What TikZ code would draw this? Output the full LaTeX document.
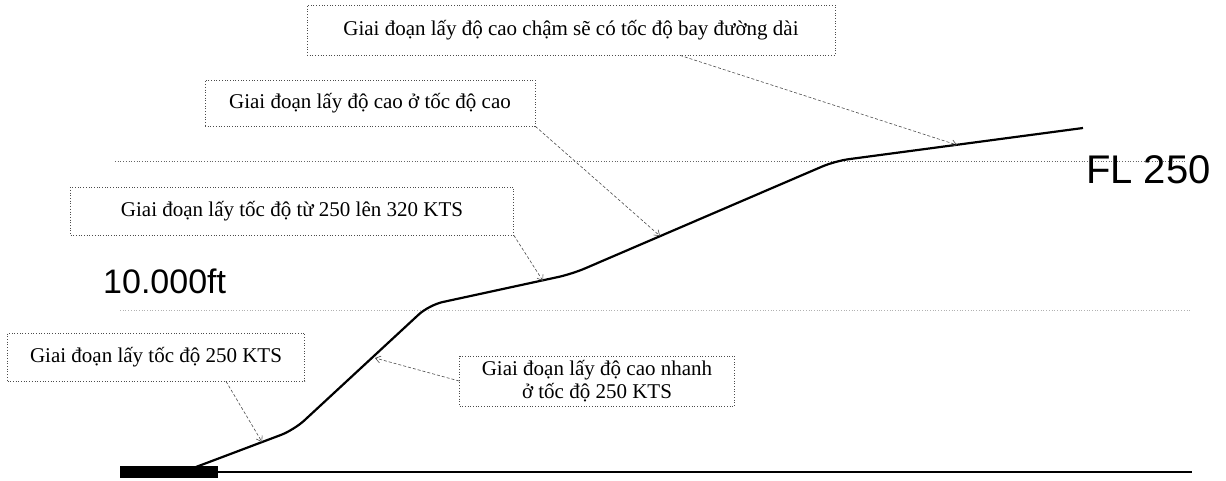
\documentclass[tikz,border=0pt]{standalone}
\usepackage{fontspec}
\setmainfont{Liberation Serif}
\newfontfamily\arialf{Liberation Sans}
\usetikzlibrary{arrows.meta}
\begin{document}
\begin{tikzpicture}[x=1pt,y=-1pt,
  label box/.style={draw=black!70, dotted, line width=0.7pt, inner sep=0pt, font=\fontsize{21}{25}\selectfont, align=center},
  leader/.style={draw=black!70, dashed, line width=0.6pt, dash pattern=on 3pt off 2pt, -{Straight Barb[length=5pt,width=7pt]}},
  level line/.style={draw=black!60, dotted, line width=0.7pt},
  big label/.style={font=\arialf\fontsize{34}{38}\selectfont, inner sep=0pt}]
\useasboundingbox (0,0) rectangle (1226,480);
% level lines
\coordinate (fl1) at (115,161);
\coordinate (fl2) at (1185,161);
\coordinate (tk1) at (120,310);
\coordinate (tk2) at (1190,310);
\draw[level line] (fl1) -- (fl2);
\draw[level line, draw=black!30] (tk1) -- (tk2);
% ground
\coordinate (g1) at (120,472);
\coordinate (g2) at (1192,472);
\draw[line width=1.6pt] (g1) -- (g2);
\fill (120,466) rectangle (218,478);
% climb profile
\coordinate (p0) at (188,470);
\coordinate (p1) at (294,430);
\coordinate (p2) at (429,305);
\coordinate (p3) at (572,274);
\coordinate (p4) at (835,161);
\coordinate (p5) at (1083,128);
\draw[line width=2.2pt, rounded corners=14pt] (p0) -- (p1) -- (p2) -- (p3) -- (p4) -- (p5);
% labels
\node[big label, anchor=west, font=\arialf\fontsize{40}{44}\selectfont] (fl) at (1086,170) {FL 250};
\node[big label, anchor=west] (tk) at (103,281) {10.000ft};
% boxes
\node[label box, minimum width=528pt, minimum height=50pt] (b1) at (571,30) {Giai đoạn lấy độ cao chậm sẽ có tốc độ bay đường dài};
\node[label box, minimum width=330pt, minimum height=46pt] (b2) at (370,103) {Giai đoạn lấy độ cao ở tốc độ cao};
\node[label box, minimum width=443pt, minimum height=48pt] (b3) at (292,211) {Giai đoạn lấy tốc độ từ 250 lên 320 KTS};
\node[label box, minimum width=297pt, minimum height=48pt] (b4) at (156,357) {Giai đoạn lấy tốc độ 250 KTS};
\node[label box, minimum width=275pt, minimum height=50pt, font=\fontsize{21}{23}\selectfont] (b5) at (597,381) {Giai đoạn lấy độ cao nhanh\\ở tốc độ 250 KTS};
% targets on the profile
\coordinate (t1) at (957,145);
\coordinate (t2) at (660,236);
\coordinate (t3) at (543,281);
\coordinate (t4) at (262,442);
\coordinate (t5) at (375,358);
% leaders
\draw[leader] (b1.south) ++(109,0) coordinate (s1) (s1) -- (t1);
\draw[leader] (b2.south east) -- (t2);
\draw[leader] (b3.south east) -- (t3);
\draw[leader] (b4.south) ++(70,0) coordinate (s4) (s4) -- (t4);
\draw[leader] (b5.west) -- (t5);
\end{tikzpicture}
\end{document}
